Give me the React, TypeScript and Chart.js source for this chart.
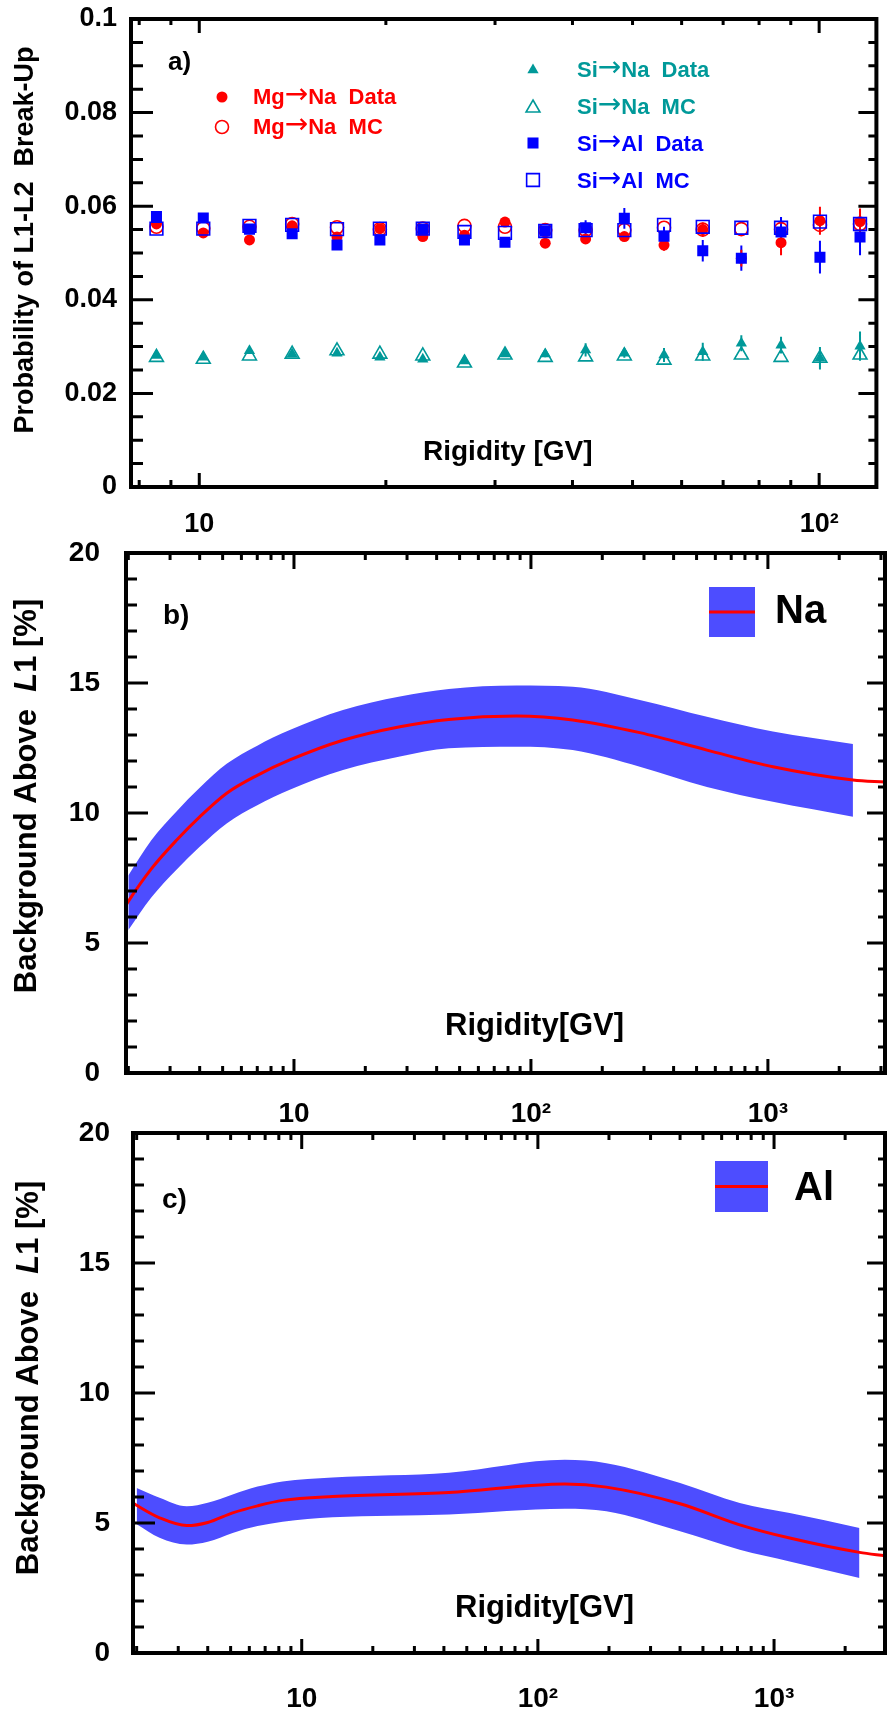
import React, { useEffect, useRef } from 'react';
import { Chart, registerables } from 'chart.js';

Chart.register(...registerables);

const FONT = '"Liberation Sans", Arial, Helvetica, sans-serif';
const ARROW_FONT = '"DejaVu Sans", sans-serif';
const RED = '#ff0000';
const BLUE = '#0000ff';
const TEAL = '#009999';
const BAND = '#4d4dff';

// ---------------- Panel a data ----------------
const rigidityA = [8.53, 10.15, 12.05, 14.12, 16.68, 19.56, 22.94, 26.78, 31.13, 36.15, 42.0, 48.5, 56.2, 64.9, 74.9, 86.8, 100.3, 116.4];
const mgNaData = [0.0562, 0.0543, 0.0528, 0.0558, 0.0534, 0.0552, 0.0535, 0.0538, 0.0566, 0.0521, 0.0530, 0.0535, 0.0517, 0.0550, 0.0489, 0.0522, 0.0569, 0.0567];
const mgNaDataErr = [0.0003, 0.0003, 0.0003, 0.0003, 0.0004, 0.0004, 0.0005, 0.0005, 0.0006, 0.0007, 0.0009, 0.0010, 0.0012, 0.0015, 0.0018, 0.0027, 0.0030, 0.0028];
const mgNaMC = [0.0556, 0.0553, 0.0556, 0.0562, 0.0555, 0.0551, 0.0552, 0.0558, 0.0556, 0.0549, 0.0549, 0.0549, 0.0554, 0.0550, 0.0551, 0.0551, 0.0560, 0.0562];
const siAlData = [0.0578, 0.0575, 0.0551, 0.0541, 0.0517, 0.0528, 0.0551, 0.0528, 0.0523, 0.0547, 0.0554, 0.0574, 0.0536, 0.0505, 0.0489, 0.0545, 0.0491, 0.0534];
const siAlDataErr = [0.0004, 0.0004, 0.0005, 0.0005, 0.0006, 0.0006, 0.0007, 0.0008, 0.0009, 0.0010, 0.0016, 0.0022, 0.0020, 0.0023, 0.0027, 0.0032, 0.0035, 0.0039];
const siAlMC = [0.0552, 0.0552, 0.0558, 0.0560, 0.0551, 0.0552, 0.0552, 0.0545, 0.0543, 0.0547, 0.0549, 0.0549, 0.0560, 0.0556, 0.0554, 0.0554, 0.0567, 0.0562];
const siNaData = [0.0281, 0.0277, 0.0291, 0.0284, 0.0286, 0.0277, 0.0273, 0.0269, 0.0284, 0.0284, 0.0293, 0.0286, 0.0282, 0.0289, 0.0307, 0.0303, 0.0275, 0.0301];
const siNaDataErr = [0.0003, 0.0003, 0.0003, 0.0004, 0.0004, 0.0005, 0.0005, 0.0006, 0.0006, 0.0007, 0.0014, 0.0010, 0.0015, 0.0019, 0.0017, 0.0018, 0.0024, 0.0031];
const siNaMC = [0.0277, 0.0273, 0.0280, 0.0284, 0.0291, 0.0284, 0.0280, 0.0265, 0.0282, 0.0277, 0.0278, 0.0280, 0.0271, 0.0280, 0.0282, 0.0277, 0.0275, 0.0282];

const xTicksA = [8, 9, 10, 20, 30, 40, 50, 60, 70, 80, 90, 100];
const xLabelValuesA = [10, 100];
const xLabelTextsA = ['10', '10²'];
const yTickLabelsA = ['0', '0.02', '0.04', '0.06', '0.08', '0.1'];
const yMinorStepA = 0.005;

// ---------------- Panel b data (Na) ----------------
const naLineR = [1.955, 2.0, 2.5, 3.2, 4.0, 5.2, 7.0, 9.6, 16.1, 28, 45, 87, 150, 288, 553, 1050, 2285, 3120];
const naLine = [6.45, 6.6, 7.85, 8.96, 9.85, 10.76, 11.45, 12.04, 12.8, 13.32, 13.6, 13.73, 13.58, 13.09, 12.42, 11.78, 11.27, 11.19];
const naBandR = [2.0, 2.5, 3.2, 4.0, 5.2, 7.0, 9.6, 16.1, 28, 45, 87, 150, 288, 553, 1050, 2285];
const naBandUpper = [7.6, 8.95, 10.07, 10.97, 11.89, 12.59, 13.19, 13.96, 14.48, 14.77, 14.9, 14.86, 14.35, 13.7, 13.13, 12.65];
const naBandLower = [5.5, 6.75, 7.83, 8.7, 9.6, 10.3, 10.89, 11.65, 12.17, 12.49, 12.55, 12.42, 11.78, 11.0, 10.43, 9.86];

// ---------------- Panel c data (Al) ----------------
const alLineR = [1.93, 2.0, 2.5, 3.26, 4.0, 5.1, 6.5, 8.3, 13.5, 42, 130, 195, 400, 716, 1165, 2300, 2950];
const alLine = [5.77, 5.68, 5.2, 4.9, 5.02, 5.39, 5.66, 5.87, 6.02, 6.17, 6.5, 6.38, 5.74, 4.93, 4.42, 3.87, 3.74];
const alBandR = [2.0, 2.5, 3.26, 4.0, 5.1, 6.5, 8.3, 13.5, 42, 130, 195, 400, 716, 1165, 2300];
const alBandUpper = [6.35, 5.97, 5.64, 5.78, 6.1, 6.4, 6.6, 6.75, 6.93, 7.43, 7.3, 6.54, 5.77, 5.38, 4.81];
const alBandLower = [4.95, 4.43, 4.17, 4.28, 4.62, 4.88, 5.05, 5.22, 5.33, 5.55, 5.45, 4.68, 3.97, 3.52, 2.88];

const xTicksBC = [2, 3, 4, 5, 6, 7, 8, 9, 10, 20, 30, 40, 50, 60, 70, 80, 90, 100, 200, 300, 400, 500, 600, 700, 800, 900, 1000, 2000, 3000];
const xLabelValuesBC = [10, 100, 1000];
const xLabelTextsBC = ['10', '10²', '10³'];
const yTickLabelsBC = ['0', '5', '10', '15', '20'];
const yMinorStepBC = 1;

// ---------------- helpers ----------------
const pts = (xs: number[], ys: number[]) => xs.map((x, i) => ({ x, y: ys[i] }));

type Seg = { t: string; italic?: boolean; font?: string; dy?: number };
type TextItem = { segs: Seg[]; x: number; y: number; size: number; color: string; rotate?: boolean; center?: boolean };
type Marker = { shape: 'circle' | 'rect' | 'triangle'; filled: boolean; x: number; y: number; r: number; color: string };

function drawMarker(ctx: CanvasRenderingContext2D, m: Marker) {
  ctx.save();
  ctx.beginPath();
  if (m.shape === 'circle') {
    ctx.arc(m.x, m.y, m.r, 0, Math.PI * 2);
  } else if (m.shape === 'rect') {
    const s = m.r * Math.SQRT1_2;
    ctx.rect(m.x - s, m.y - s, 2 * s, 2 * s);
  } else {
    const k = Math.sin((2 * Math.PI) / 3) * m.r;
    ctx.moveTo(m.x, m.y - m.r);
    ctx.lineTo(m.x + k, m.y + m.r / 2);
    ctx.lineTo(m.x - k, m.y + m.r / 2);
    ctx.closePath();
  }
  if (m.filled) {
    ctx.fillStyle = m.color;
    ctx.fill();
  } else {
    ctx.strokeStyle = m.color;
    ctx.lineWidth = 1.6;
    ctx.stroke();
  }
  ctx.restore();
}

function drawRich(ctx: CanvasRenderingContext2D, item: TextItem) {
  ctx.save();
  ctx.fillStyle = item.color;
  ctx.textBaseline = 'alphabetic';
  ctx.textAlign = 'left';
  const fonts = item.segs.map((s) => s.font || `${s.italic ? 'italic ' : ''}bold ${item.size}px ${FONT}`);
  const widths = item.segs.map((s, i) => {
    ctx.font = fonts[i];
    return ctx.measureText(s.t).width;
  });
  const total = widths.reduce((a, b) => a + b, 0);
  ctx.translate(item.x, item.y);
  if (item.rotate) ctx.rotate(-Math.PI / 2);
  let cx = item.center ? -total / 2 : 0;
  item.segs.forEach((s, i) => {
    ctx.font = fonts[i];
    ctx.fillText(s.t, cx, s.dy || 0);
    cx += widths[i];
  });
  ctx.restore();
}

type FrameCfg = {
  xMajor: number[];
  yMajorEvery: number;
  left: [number, number];
  right: [number, number];
  bottom: [number, number];
  top: [number, number];
};

function makeFramePlugin(cfg: FrameCfg) {
  return {
    id: 'rootFrame',
    afterDatasetsDraw(chart: any) {
      const { ctx, chartArea } = chart;
      const { left, right, top, bottom } = chartArea;
      const xs = chart.scales.x;
      const ys = chart.scales.y;
      ctx.save();
      ctx.strokeStyle = '#000';
      ctx.lineWidth = 3;
      ctx.lineCap = 'butt';
      ctx.beginPath();
      xs.ticks.forEach((t: any) => {
        const px = xs.getPixelForValue(t.value);
        if (px < left - 1 || px > right + 1) return;
        const major = cfg.xMajor.indexOf(t.value) >= 0;
        const lb = major ? cfg.bottom[0] : cfg.bottom[1];
        const lt = major ? cfg.top[0] : cfg.top[1];
        ctx.moveTo(px, bottom);
        ctx.lineTo(px, bottom - lb);
        ctx.moveTo(px, top);
        ctx.lineTo(px, top + lt);
      });
      ys.ticks.forEach((t: any, i: number) => {
        const py = ys.getPixelForValue(t.value);
        if (py < top - 1 || py > bottom + 1) return;
        const major = i % cfg.yMajorEvery === 0;
        const ll = major ? cfg.left[0] : cfg.left[1];
        const lr = major ? cfg.right[0] : cfg.right[1];
        ctx.moveTo(left, py);
        ctx.lineTo(left + ll, py);
        ctx.moveTo(right, py);
        ctx.lineTo(right - lr, py);
      });
      ctx.stroke();
      ctx.lineWidth = 4;
      ctx.strokeRect(left, top, right - left, bottom - top);
      ctx.restore();
    },
  };
}

function makeAnnotationPlugin(texts: TextItem[], markers: Marker[], boxes: { x: number; y: number; w: number; h: number }[]) {
  return {
    id: 'annotations',
    afterDraw(chart: any) {
      const ctx = chart.ctx as CanvasRenderingContext2D;
      boxes.forEach((b) => {
        ctx.save();
        ctx.fillStyle = BAND;
        ctx.fillRect(b.x, b.y, b.w, b.h);
        ctx.strokeStyle = RED;
        ctx.lineWidth = 3;
        ctx.beginPath();
        ctx.moveTo(b.x, b.y + b.h / 2);
        ctx.lineTo(b.x + b.w, b.y + b.h / 2);
        ctx.stroke();
        ctx.restore();
      });
      markers.forEach((m) => drawMarker(ctx, m));
      texts.forEach((t) => drawRich(ctx, t));
    },
  };
}

const errorBarPlugin = {
  id: 'errorBars',
  beforeDatasetsDraw(chart: any) {
    const ctx = chart.ctx as CanvasRenderingContext2D;
    const ys = chart.scales.y;
    chart.data.datasets.forEach((ds: any, di: number) => {
      if (!ds.errors) return;
      const meta = chart.getDatasetMeta(di);
      ctx.save();
      ctx.strokeStyle = ds.borderColor;
      ctx.lineWidth = 2;
      ctx.beginPath();
      meta.data.forEach((el: any, j: number) => {
        const v = ds.data[j].y;
        const e = ds.errors[j];
        ctx.moveTo(el.x, ys.getPixelForValue(v + e));
        ctx.lineTo(el.x, ys.getPixelForValue(v - e));
      });
      ctx.stroke();
      ctx.restore();
    });
  },
};

function tickFont(size: number) {
  return { family: FONT, size, weight: 'bold' as const, lineHeight: 1.2 };
}

function buildScales(o: {
  xMin: number; xMax: number; xTicks: number[]; xLabelValues: number[]; xLabelTexts: string[];
  yMax: number; yStep: number; yLabels: string[]; yMajorEvery: number;
  xAxisHeight: number; yAxisWidth: number; xPad: number; yPad: number; fontSize: number;
}) {
  const nY = Math.round(o.yMax / o.yStep);
  return {
    x: {
      type: 'logarithmic',
      min: o.xMin,
      max: o.xMax,
      grid: { display: false },
      border: { display: false },
      afterBuildTicks: (s: any) => {
        s.ticks = o.xTicks.map((v) => ({ value: v }));
      },
      afterFit: (s: any) => {
        s.height = o.xAxisHeight;
        s.paddingLeft = 0;
        s.paddingRight = 0;
      },
      ticks: {
        autoSkip: false,
        maxRotation: 0,
        minRotation: 0,
        padding: o.xPad,
        color: '#000',
        font: tickFont(o.fontSize),
        callback: (value: number) => {
          const i = o.xLabelValues.indexOf(value);
          return i >= 0 ? o.xLabelTexts[i] : '';
        },
      },
    },
    y: {
      type: 'linear',
      min: 0,
      max: o.yMax,
      grid: { display: false },
      border: { display: false },
      afterBuildTicks: (s: any) => {
        const t = [];
        for (let i = 0; i <= nY; i++) t.push({ value: i * o.yStep });
        s.ticks = t;
      },
      afterFit: (s: any) => {
        s.width = o.yAxisWidth;
        s.paddingTop = 0;
        s.paddingBottom = 0;
      },
      ticks: {
        autoSkip: false,
        padding: o.yPad,
        color: '#000',
        font: tickFont(o.fontSize),
        callback: (_v: number, index: number) => (index % o.yMajorEvery === 0 ? o.yLabels[index / o.yMajorEvery] : ''),
      },
    },
  };
}

const baseOptions = {
  animation: false,
  responsive: false,
  maintainAspectRatio: false,
  events: [],
  plugins: { legend: { display: false }, tooltip: { enabled: false } },
};

const arrowSeg: Seg = { t: '→', font: `28px ${ARROW_FONT}`, dy: -1 };

// ---------------- Panel a ----------------
function PanelA() {
  const ref = useRef<HTMLCanvasElement>(null);
  const W = 887;
  const H = 535;
  useEffect(() => {
    const texts: TextItem[] = [
      { segs: [{ t: 'a)' }], x: 168, y: 70, size: 26, color: '#000' },
      { segs: [{ t: 'Mg' }, arrowSeg, { t: 'Na  Data' }], x: 253, y: 104, size: 22, color: RED },
      { segs: [{ t: 'Mg' }, arrowSeg, { t: 'Na  MC' }], x: 253, y: 134, size: 22, color: RED },
      { segs: [{ t: 'Si' }, arrowSeg, { t: 'Na  Data' }], x: 577, y: 77, size: 22, color: TEAL },
      { segs: [{ t: 'Si' }, arrowSeg, { t: 'Na  MC' }], x: 577, y: 114, size: 22, color: TEAL },
      { segs: [{ t: 'Si' }, arrowSeg, { t: 'Al  Data' }], x: 577, y: 151, size: 22, color: BLUE },
      { segs: [{ t: 'Si' }, arrowSeg, { t: 'Al  MC' }], x: 577, y: 188, size: 22, color: BLUE },
      { segs: [{ t: 'Rigidity [GV]' }], x: 423, y: 460, size: 28, color: '#000' },
      { segs: [{ t: 'Probability of L1-L2  Break-Up' }], x: 33, y: 240, size: 27, color: '#000', rotate: true, center: true },
    ];
    const markers: Marker[] = [
      { shape: 'circle', filled: true, x: 222, y: 97, r: 5.5, color: RED },
      { shape: 'circle', filled: false, x: 222, y: 127, r: 6.5, color: RED },
      { shape: 'triangle', filled: true, x: 533, y: 70, r: 6.5, color: TEAL },
      { shape: 'triangle', filled: false, x: 533, y: 108, r: 8, color: TEAL },
      { shape: 'rect', filled: true, x: 533, y: 143, r: 7.8, color: BLUE },
      { shape: 'rect', filled: false, x: 533, y: 180, r: 9, color: BLUE },
    ];
    const chart = new Chart(ref.current as HTMLCanvasElement, {
      type: 'scatter',
      data: {
        datasets: [
          { label: 'Si→Al Data', data: pts(rigidityA, siAlData), errors: siAlDataErr, pointStyle: 'rect', pointRadius: 7.8, backgroundColor: BLUE, borderColor: BLUE, borderWidth: 0 } as any,
          { label: 'Si→Al MC', data: pts(rigidityA, siAlMC), pointStyle: 'rect', pointRadius: 9, backgroundColor: 'rgba(0,0,0,0)', borderColor: BLUE, borderWidth: 1.6 },
          { label: 'Mg→Na MC', data: pts(rigidityA, mgNaMC), pointStyle: 'circle', pointRadius: 6.5, backgroundColor: 'rgba(0,0,0,0)', borderColor: RED, borderWidth: 1.6 },
          { label: 'Mg→Na Data', data: pts(rigidityA, mgNaData), errors: mgNaDataErr, pointStyle: 'circle', pointRadius: 5.5, backgroundColor: RED, borderColor: RED, borderWidth: 0 } as any,
          { label: 'Si→Na MC', data: pts(rigidityA, siNaMC), pointStyle: 'triangle', pointRadius: 8, backgroundColor: 'rgba(0,0,0,0)', borderColor: TEAL, borderWidth: 1.6 },
          { label: 'Si→Na Data', data: pts(rigidityA, siNaData), errors: siNaDataErr, pointStyle: 'triangle', pointRadius: 6.5, backgroundColor: TEAL, borderColor: TEAL, borderWidth: 0 } as any,
        ],
      },
      options: {
        ...baseOptions,
        layout: { padding: { top: 19, left: 0, right: 2, bottom: 0 } },
        scales: buildScales({
          xMin: 7.76, xMax: 123.7, xTicks: xTicksA, xLabelValues: xLabelValuesA, xLabelTexts: xLabelTextsA,
          yMax: 0.1, yStep: yMinorStepA, yLabels: yTickLabelsA, yMajorEvery: 4,
          xAxisHeight: H - 487, yAxisWidth: 131, xPad: 13, yPad: 6, fontSize: 27,
        }),
      } as any,
      plugins: [
        errorBarPlugin,
        makeFramePlugin({ xMajor: xLabelValuesA, yMajorEvery: 4, left: [22, 12], right: [18, 8], bottom: [14, 7], top: [14, 6] }),
        makeAnnotationPlugin(texts, markers, []),
      ],
    } as any);
    return () => chart.destroy();
  }, []);
  return (
    <div style={{ position: 'absolute', left: 0, top: 0, width: W, height: H }}>
      <canvas ref={ref} width={W} height={H} style={{ width: W, height: H, display: 'block' }} />
    </div>
  );
}

// ---------------- Panels b / c ----------------
function BandPanel(props: {
  top: number; height: number; yAxisWidth: number; xMin: number; xMax: number;
  lineR: number[]; line: number[]; bandR: number[]; upper: number[]; lower: number[];
  name: string; xPad: number; yPad: number;
  texts: TextItem[]; box: { x: number; y: number; w: number; h: number };
}) {
  const ref = useRef<HTMLCanvasElement>(null);
  const W = 887;
  const H = props.height;
  useEffect(() => {
    const chart = new Chart(ref.current as HTMLCanvasElement, {
      type: 'line',
      data: {
        datasets: [
          { label: props.name, data: pts(props.lineR, props.line), borderColor: RED, borderWidth: 3, pointRadius: 0, fill: false, cubicInterpolationMode: 'monotone' },
          { label: props.name + ' upper', data: pts(props.bandR, props.upper), borderColor: 'rgba(0,0,0,0)', borderWidth: 1, pointRadius: 0, backgroundColor: BAND, fill: '+1', cubicInterpolationMode: 'monotone' },
          { label: props.name + ' lower', data: pts(props.bandR, props.lower), borderColor: 'rgba(0,0,0,0)', borderWidth: 1, pointRadius: 0, backgroundColor: BAND, fill: false, cubicInterpolationMode: 'monotone' },
        ],
      },
      options: {
        ...baseOptions,
        layout: { padding: { top: 23, left: 0, right: 2, bottom: 0 } },
        scales: buildScales({
          xMin: props.xMin, xMax: props.xMax, xTicks: xTicksBC, xLabelValues: xLabelValuesBC, xLabelTexts: xLabelTextsBC,
          yMax: 20, yStep: yMinorStepBC, yLabels: yTickLabelsBC, yMajorEvery: 5,
          xAxisHeight: H - 543, yAxisWidth: props.yAxisWidth, xPad: props.xPad, yPad: props.yPad, fontSize: 28,
        }),
      } as any,
      plugins: [
        makeFramePlugin({ xMajor: xLabelValuesBC, yMajorEvery: 5, left: [22, 11], right: [18, 7], bottom: [14, 7], top: [16, 7] }),
        makeAnnotationPlugin(props.texts, [], [props.box]),
      ],
    } as any);
    return () => chart.destroy();
  }, []);
  return (
    <div style={{ position: 'absolute', left: 0, top: props.top, width: W, height: H }}>
      <canvas ref={ref} width={W} height={H} style={{ width: W, height: H, display: 'block' }} />
    </div>
  );
}

const yTitleSegs: Seg[] = [{ t: 'Background Above  ' }, { t: 'L', italic: true }, { t: '1 [%]' }];

export default function App() {
  return (
    <div style={{ position: 'absolute', left: 0, top: 0, width: 887, height: 1709, background: '#fff', overflow: 'hidden' }}>
      <PanelA />
      <BandPanel
        top={530}
        height={600}
        yAxisWidth={126}
        xMin={1.955}
        xMax={3120}
        lineR={naLineR}
        line={naLine}
        bandR={naBandR}
        upper={naBandUpper}
        lower={naBandLower}
        name="Na"
        xPad={16}
        yPad={18}
        box={{ x: 709, y: 57, w: 46, h: 50 }}
        texts={[
          { segs: [{ t: 'b)' }], x: 163, y: 94, size: 28, color: '#000' },
          { segs: [{ t: 'Na' }], x: 775, y: 93, size: 40, color: '#000' },
          { segs: [{ t: 'Rigidity[GV]' }], x: 445, y: 505, size: 31, color: '#000' },
          { segs: yTitleSegs, x: 36, y: 266, size: 31, color: '#000', rotate: true, center: true },
        ]}
      />
      <BandPanel
        top={1110}
        height={599}
        yAxisWidth={133}
        xMin={1.93}
        xMax={2950}
        lineR={alLineR}
        line={alLine}
        bandR={alBandR}
        upper={alBandUpper}
        lower={alBandLower}
        name="Al"
        xPad={21}
        yPad={15}
        box={{ x: 715, y: 51, w: 53, h: 51 }}
        texts={[
          { segs: [{ t: 'c)' }], x: 162, y: 98, size: 28, color: '#000' },
          { segs: [{ t: 'Al' }], x: 794, y: 90, size: 40, color: '#000' },
          { segs: [{ t: 'Rigidity[GV]' }], x: 455, y: 507, size: 31, color: '#000' },
          { segs: yTitleSegs, x: 38, y: 268, size: 31, color: '#000', rotate: true, center: true },
        ]}
      />
    </div>
  );
}
